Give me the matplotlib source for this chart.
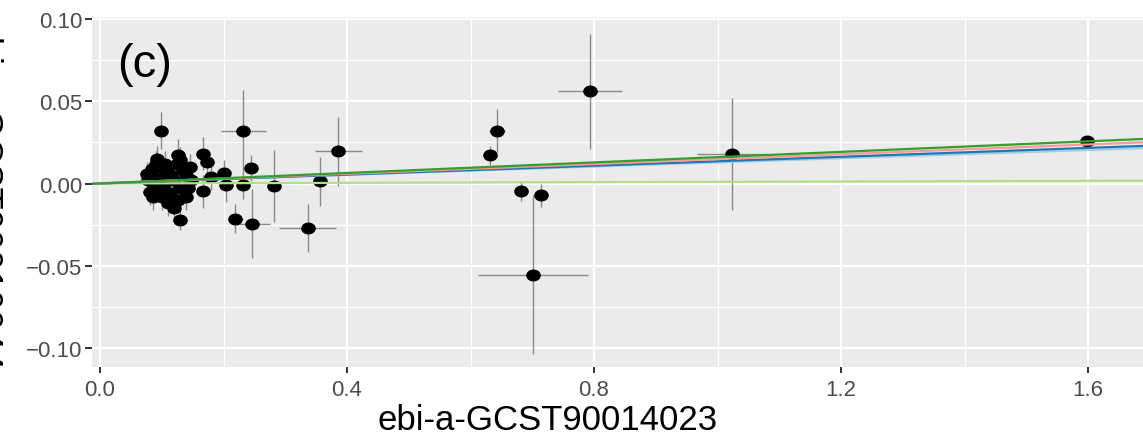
import numpy as np
import matplotlib
matplotlib.use("Agg")
import matplotlib.pyplot as plt
from matplotlib.path import Path
from matplotlib.transforms import Affine2D
from matplotlib.ticker import MultipleLocator

plt.rcParams['font.family'] = ['Liberation Sans', 'DejaVu Sans']

# ---- data: SNP effects (exposure beta, outcome beta, SEs) ----
snp_x = [0.794, 0.643, 0.632, 0.681, 0.714, 0.701, 1.023, 1.598,
         0.099, 0.232, 0.244, 0.282, 0.357, 0.386, 0.219, 0.246, 0.336,
         0.130, 0.166, 0.173, 0.166, 0.200, 0.204, 0.231, 0.179,
         0.092, 0.084, 0.076, 0.078, 0.081, 0.086, 0.108, 0.102, 0.126,
         0.124, 0.135, 0.130, 0.126, 0.113, 0.097, 0.118, 0.092, 0.143,
         0.140, 0.095, 0.105, 0.088, 0.110, 0.120, 0.100, 0.148, 0.130,
         0.085, 0.115, 0.090, 0.140, 0.145]
snp_y = [0.0559, 0.0319, 0.0170, -0.0046, -0.0072, -0.0552, 0.0180, 0.0260,
         0.0321, 0.0317, 0.0093, -0.0016, 0.0013, 0.0196, -0.0213, -0.0244, -0.0270,
         -0.0224, 0.0180, 0.0130, -0.0046, 0.0063, -0.0012, -0.0012, 0.0040,
         0.015, 0.009, 0.006, 0.002, -0.005, -0.008, 0.007, -0.001, 0.017,
         0.012, 0.008, -0.003, -0.010, -0.006, 0.003, 0.002, -0.003, -0.003,
         0.005, 0.010, 0.012, -0.001, -0.012, -0.015, -0.008, 0.002, 0.014,
         0.004, 0.005, 0.012, -0.008, 0.010]
snp_xse = [0.052, 0.013, 0.006, 0.006, 0.008, 0.089, 0.057, 0.010,
           0.008, 0.036, 0.008, 0.010, 0.008, 0.038, 0.012, 0.030, 0.046,
           0.010, 0.008, 0.008, 0.008, 0.008, 0.008, 0.008, 0.008,
           0.008, 0.007, 0.006, 0.007, 0.007, 0.008, 0.008, 0.007, 0.009,
           0.008, 0.009, 0.008, 0.009, 0.008, 0.007, 0.008, 0.007, 0.009,
           0.009, 0.007, 0.008, 0.007, 0.008, 0.009, 0.007, 0.009, 0.008,
           0.007, 0.008, 0.007, 0.009, 0.009]
snp_yse = [0.035, 0.013, 0.006, 0.006, 0.007, 0.048, 0.034, 0.003,
           0.011, 0.025, 0.008, 0.022, 0.015, 0.021, 0.009, 0.021, 0.0145,
           0.006, 0.010, 0.008, 0.010, 0.008, 0.010, 0.008, 0.008,
           0.008, 0.008, 0.007, 0.007, 0.008, 0.008, 0.008, 0.007, 0.010,
           0.008, 0.008, 0.008, 0.008, 0.007, 0.007, 0.007, 0.008, 0.008,
           0.008, 0.008, 0.008, 0.007, 0.008, 0.008, 0.008, 0.008, 0.008,
           0.007, 0.007, 0.008, 0.008, 0.008]

# MR method regression lines
methods = ["Inverse variance weighted", "MR Egger", "Weighted median",
           "Weighted mode", "Simple mode"]
method_intercepts = [0.0, 0.0003, 0.0, 0.0, 0.0]
method_slopes = [0.0010, 0.0125, 0.0135, 0.0148, 0.0160]
method_colors = ["#b2df8a", "#a6cee3", "#1f78b4", "#fb9a99", "#33a02c"]

x_label = "ebi-a-GCST90014023"
y_label = "ebi-a-GCST90010044"
panel_tag = "(c)"
x_ticks = [0.0, 0.4, 0.8, 1.2, 1.6]
y_ticks = [-0.10, -0.05, 0.00, 0.05, 0.10]

W, H = 1143, 439
fig = plt.figure(figsize=(W / 100, H / 100), dpi=100)
L, R, T, B = 92, 1143, 18, 368
ax = fig.add_axes([L / W, 1 - B / H, (R - L) / W, (B - T) / H])
ax.set_facecolor("#EBEBEB")
for s in ax.spines.values():
    s.set_visible(False)

ax.set_xlim(-0.013, 1.689)
ax.set_ylim(-0.1113, 0.1010)

ax.set_xticks(x_ticks)
ax.set_xticklabels([f"{v:.1f}" for v in x_ticks])
ax.set_yticks(y_ticks)
ax.set_yticklabels([f"{v:.2f}".replace("-", "\u2212") for v in y_ticks])
ax.xaxis.set_minor_locator(MultipleLocator(0.2))
ax.yaxis.set_minor_locator(MultipleLocator(0.025))
ax.grid(which="major", color="white", lw=1.6, zorder=0)
ax.grid(which="minor", color="white", lw=0.9, zorder=0)
ax.set_axisbelow(True)
ax.tick_params(which="minor", length=0)
ax.tick_params(axis="y", which="major", length=5, width=1.4, color="#333333",
               labelsize=16, labelcolor="#4D4D4D", pad=2)
ax.tick_params(axis="x", which="major", length=4, width=1.4, color="#333333",
               labelsize=16, labelcolor="#4D4D4D", pad=5)

# error bars
ax.errorbar(snp_x, snp_y, xerr=snp_xse, yerr=snp_yse, fmt="none",
            ecolor="#8a8a8a", elinewidth=1.0, capsize=0, zorder=2)

# elliptical (slightly wide) point marker
ell = Path.unit_circle().transformed(Affine2D().scale(1.25, 1.0))
ax.plot(snp_x, snp_y, ls="none", marker=ell, ms=9.5, color="black", zorder=3)

# regression lines
for a, b, c in zip(method_intercepts, method_slopes, method_colors):
    ax.axline((0, a), slope=b, color=c, lw=1.6, zorder=4)

ax.text(0.0238, 0.831, panel_tag, transform=ax.transAxes, fontsize=34,
        ha="left", va="baseline", color="black")

ax.set_xlabel(x_label, fontsize=25, color="black")
ax.xaxis.label.set_va("baseline")
ax.xaxis.set_label_coords((548 - L) / (R - L), (B - 430) / (B - T))

fig.text(2 / W, 1 - 195 / H, y_label, rotation=270, fontsize=26,
         ha="right", va="center", color="black")

fig.savefig("out.png", dpi=100)
